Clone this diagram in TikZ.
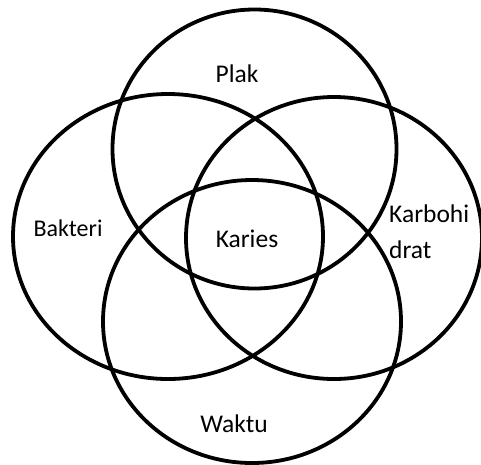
\documentclass[tikz,border=0pt]{standalone}
\usepackage{fontspec}
\setmainfont{Carlito}
\usepackage{tikz}
\usetikzlibrary{positioning}

\begin{document}
\begin{tikzpicture}[x=1pt,y=-1pt,
  ring/.style={line width=3.8pt},
  lbl/.style={font=\fontsize{25.5}{30}\selectfont,inner sep=0pt,anchor=base}]
  \useasboundingbox (0,0) rectangle (481,464);
  % the four sets
  \draw[ring] (254.5,149) ellipse [x radius=142,y radius=139.5];
  \draw[ring] (168,236.5) ellipse [x radius=155,y radius=142.5];
  \draw[ring] (334,238) ellipse [x radius=148,y radius=141];
  \draw[ring] (252,321.5) ellipse [x radius=149,y radius=141.5];
  % labels
  \node[lbl] (plak) at (237,82) {Plak};
  \node[lbl,font=\fontsize{24}{28}\selectfont] (bakteri) at (68,236) {Bakteri};
  \node[lbl] (karies) at (247,247) {Karies};
  \node[lbl,anchor=base west] (karbo) at (389,222) {Karbohi};
  \node[lbl,anchor=base west] (drat) at (389,258) {drat};
  \node[lbl] (waktu) at (234,432) {Waktu};
\end{tikzpicture}
\end{document}
